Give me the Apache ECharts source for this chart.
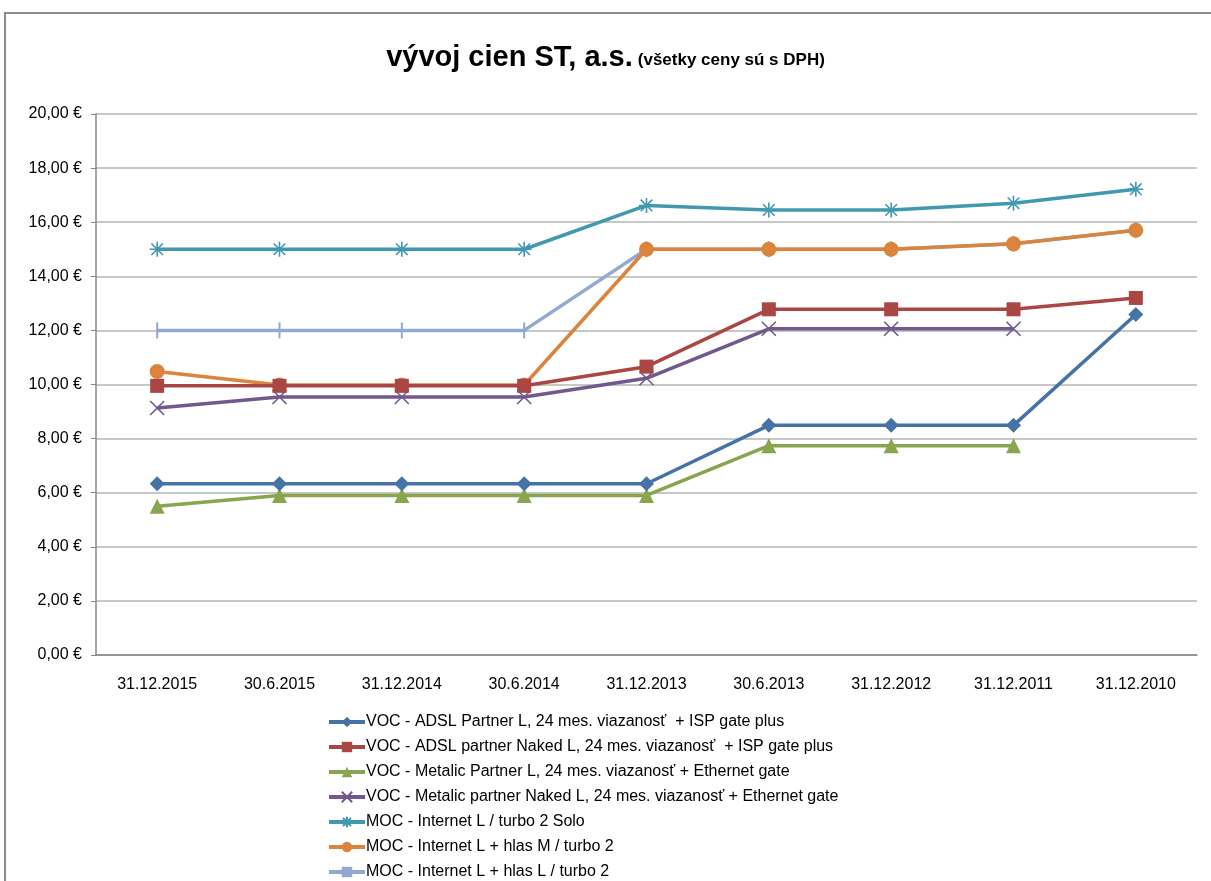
<!DOCTYPE html>
<html><head><meta charset="utf-8">
<script src="https://cdn.jsdelivr.net/npm/echarts@6/dist/echarts.min.js"></script>
<style>html,body{margin:0;padding:0;background:#fff}#c{width:1211px;height:881px}</style>
</head><body><div id="c"></div>
<script>
const categories = ['31.12.2015','30.6.2015','31.12.2014','30.6.2014','31.12.2013','30.6.2013','31.12.2012','31.12.2011','31.12.2010'];
const seriesNames = [
 'VOC - ADSL Partner L, 24 mes. viazanosť  + ISP gate plus',
 'VOC - ADSL partner Naked L, 24 mes. viazanosť  + ISP gate plus',
 'VOC - Metalic Partner L, 24 mes. viazanosť + Ethernet gate',
 'VOC - Metalic partner Naked L, 24 mes. viazanosť + Ethernet gate',
 'MOC - Internet L / turbo 2 Solo',
 'MOC - Internet L + hlas M / turbo 2',
 'MOC - Internet L + hlas L / turbo 2'
];
const adslPartner = [6.33, 6.33, 6.33, 6.33, 6.33, 8.49, 8.49, 8.49, 12.59];
const adslNaked = [9.95, 9.95, 9.95, 9.95, 10.66, 12.78, 12.78, 12.78, 13.2];
const metalicPartner = [5.5, 5.9, 5.9, 5.9, 5.9, 7.74, 7.74, 7.74, null];
const metalicNaked = [9.13, 9.54, 9.54, 9.54, 10.23, 12.06, 12.06, 12.06, null];
const mocSolo = [15, 15, 15, 15, 16.62, 16.45, 16.45, 16.7, 17.22];
const mocHlasM = [10.48, 9.98, 9.98, 9.98, 15, 15, 15, 15.2, 15.7];
const mocHlasL = [12, 12, 12, 12, 15, 15, 15, 15.2, 15.7];
const yTicks = [0, 2, 4, 6, 8, 10, 12, 14, 16, 18, 20];

const colors = ['#4572A7','#AA4643','#89A54E','#71588F','#4198AF','#DB843D','#93A9CF'];
const dataSets = [adslPartner, adslNaked, metalicPartner, metalicNaked, mocSolo, mocHlasM, mocHlasL];
const symbols = [
 {s:'diamond', size:15, stroke:false},
 {s:'rect', size:14, stroke:false},
 {s:'triangle', size:15, stroke:false},
 {s:'path://M0,0L10,10M10,0L0,10', size:14, stroke:true},
 {s:'path://M0,0L10,10M10,0L0,10M5,-1.5L5,11.5M-1.5,5L11.5,5', size:15, stroke:true},
 {s:'circle', size:15, stroke:false},
 {s:'rect', size:[2,16], stroke:false}
];
const font = "'Liberation Sans Narrow','Liberation Sans',sans-serif";

const chart = echarts.init(document.getElementById('c'));
const series = seriesNames.map((n,i)=>({
  name:n, type:'line', data:dataSets[i], symbol:symbols[i].s, symbolSize:symbols[i].size,
  lineStyle:{color:colors[i], width:3.5},
  itemStyle: symbols[i].stroke ? {color:colors[i], borderColor:colors[i], borderWidth:1.6} : {color:colors[i]},
  z: 10 - i
}));
chart.setOption({
  animation:false,
  title:{
    text:'{a|vývoj cien ST, a.s.} {b|(všetky ceny sú s DPH)}',
    left:'center', top:38,
    textStyle:{rich:{
      a:{fontFamily:font, fontSize:29, fontWeight:'bold', color:'#000'},
      b:{fontFamily:font, fontSize:17, fontWeight:'bold', color:'#000', verticalAlign:'bottom', padding:[0,0,3,0]}
    }}
  },
  graphic:[{type:'rect', shape:{x:5, y:13, width:1260, height:920}, style:{fill:'none', stroke:'#8c8c8c', lineWidth:2}}],
  grid:{left:96, right:14, top:114, bottom:226},
  legend:{
    orient:'vertical', left:322, top:708, height:400, itemGap:7, itemWidth:36, itemHeight:13,
    lineStyle:{width:4},
    textStyle:{fontFamily:font, fontSize:16, lineHeight:18, color:'#000', padding:[0,0,0,-4]},
    data:seriesNames
  },
  xAxis:{
    type:'category', data:categories, boundaryGap:true,
    axisLine:{lineStyle:{color:'#888', width:1.5}},
    axisTick:{show:false},
    axisLabel:{fontFamily:font, fontSize:16, color:'#000', margin:22}
  },
  yAxis:{
    type:'value', min:yTicks[0], max:yTicks[yTicks.length-1], interval:2,
    axisLine:{show:true, lineStyle:{color:'#888', width:1.5}},
    axisTick:{show:true, length:5, inside:false, lineStyle:{color:'#888'}},
    splitLine:{lineStyle:{color:'#b5b5b5', width:1.5}},
    axisLabel:{fontFamily:font, fontSize:16, color:'#000', margin:14,
      formatter:v=>v.toFixed(2).replace('.',',')+' €'}
  },
  series:series
});
</script></body></html>
